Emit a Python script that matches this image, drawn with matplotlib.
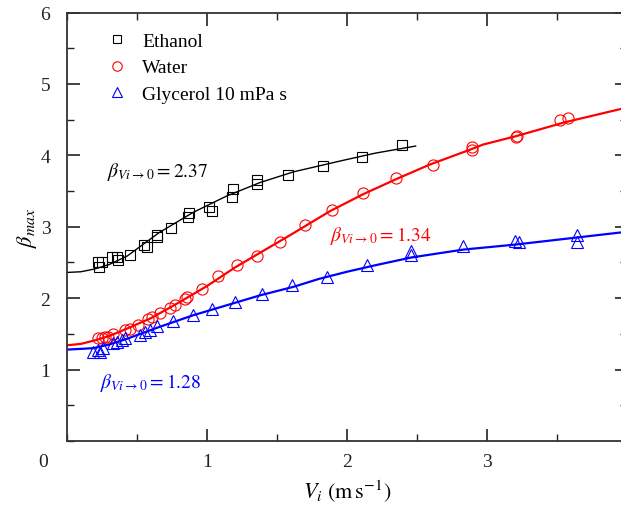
import numpy as np
import matplotlib
matplotlib.use('Agg')
import matplotlib.pyplot as plt
from matplotlib.ticker import MultipleLocator

plt.rcParams['font.family'] = ['Liberation Serif', 'DejaVu Serif']
plt.rcParams['mathtext.fontset'] = 'stix'

# Ethanol data
eth_x = [0.224, 0.231, 0.248, 0.319, 0.355, 0.366, 0.45, 0.552, 0.574, 0.645, 0.641,
         0.741, 0.874, 0.866, 1.016, 1.033, 1.188, 1.176, 1.355, 1.36, 1.58, 1.83, 2.105, 2.39]
eth_y = [2.50, 2.43, 2.50, 2.57, 2.57, 2.53, 2.61, 2.75, 2.72, 2.85, 2.88,
         2.98, 3.19, 3.13, 3.27, 3.22, 3.53, 3.41, 3.65, 3.60, 3.72, 3.85, 3.98, 4.14]
eth_fit_x = [0, 0.1, 0.2, 0.3, 0.43, 0.66, 0.9, 1.14, 1.38, 1.62, 1.95, 2.2, 2.49]
eth_fit_y = [2.36, 2.37, 2.41, 2.47, 2.59, 2.92, 3.2, 3.43, 3.62, 3.77, 3.92, 4.03, 4.13]

# Water data
wat_x = [0.224, 0.248, 0.271, 0.295, 0.331, 0.414, 0.45, 0.509, 0.581, 0.605, 0.664,
         0.736, 0.771, 0.843, 0.855, 0.962, 1.081, 1.212, 1.355, 1.521, 1.70, 1.89,
         2.112, 2.35, 2.616, 2.89, 2.89, 3.212, 3.207, 3.52, 3.58]
wat_y = [1.44, 1.44, 1.46, 1.46, 1.50, 1.56, 1.57, 1.63, 1.71, 1.74, 1.79,
         1.86, 1.90, 1.99, 2.02, 2.13, 2.31, 2.47, 2.59, 2.79, 3.02, 3.24,
         3.47, 3.68, 3.86, 4.08, 4.11, 4.27, 4.25, 4.50, 4.52]
wat_fit_x = [0, 0.1, 0.2, 0.3, 0.4, 0.6, 0.8, 1.0, 1.2, 1.4, 1.6, 1.88, 2.12, 2.355,
             2.59, 2.88, 2.97, 3.21, 3.55, 4.0]
wat_fit_y = [1.34, 1.36, 1.41, 1.47, 1.55, 1.72, 1.94, 2.17, 2.43, 2.66, 2.89, 3.22, 3.46, 3.67,
             3.87, 4.08, 4.15, 4.27, 4.46, 4.67]

# Glycerol data
gly_x = [0.188, 0.224, 0.236, 0.259, 0.331, 0.355, 0.391, 0.414, 0.521, 0.557, 0.593,
         0.641, 0.759, 0.902, 1.034, 1.20, 1.39, 1.605, 1.855, 2.145, 2.46, 2.46,
         2.826, 3.20, 3.23, 3.64, 3.64]
gly_y = [1.25, 1.28, 1.24, 1.30, 1.37, 1.39, 1.42, 1.44, 1.49, 1.52, 1.56,
         1.61, 1.68, 1.76, 1.85, 1.94, 2.06, 2.18, 2.29, 2.47, 2.66, 2.60,
         2.73, 2.80, 2.78, 2.89, 2.78]
gly_fit_x = [0, 0.1, 0.188, 0.3, 0.426, 0.664, 0.9, 1.14, 1.38, 1.62, 1.8, 2.0, 2.2, 2.46,
             2.83, 3.2, 3.6, 4.0]
gly_fit_y = [1.28, 1.29, 1.30, 1.35, 1.43, 1.60, 1.76, 1.90, 2.04, 2.16, 2.27, 2.37, 2.46, 2.57,
             2.68, 2.75, 2.84, 2.93]

fig = plt.figure(figsize=(6.21, 5.06), dpi=100)
ax = fig.add_axes([0.1079, 0.1265, 0.9018, 0.8468])

ax.plot(eth_fit_x, eth_fit_y, '-', color='black', lw=1.0)
ax.plot(wat_fit_x, wat_fit_y, '-', color='red', lw=1.6)
ax.plot(gly_fit_x, gly_fit_y, '-', color='blue', lw=1.6)

ax.plot(eth_x, eth_y, 's', mfc='none', mec='black', ms=7.5, mew=0.8, label='Ethanol')
ax.plot(wat_x, wat_y, 'o', mfc='none', mec='red', ms=8, mew=0.8, label='Water')
ax.plot(gly_x, gly_y, '^', mfc='none', mec='blue', ms=8.5, mew=0.8, label='Glycerol 10 mPa s')

ax.text(0.286, 3.78, r'$\beta_{Vi\rightarrow 0} = 2.37$', color='black', fontsize=14, va='center')
ax.text(1.88, 2.89, r'$\beta_{Vi\rightarrow 0} = 1.34$', color='red', fontsize=14, va='center')
ax.text(0.236, 0.83, r'$\beta_{Vi\rightarrow 0} = 1.28$', color='blue', fontsize=14, va='center')

ax.set_xlim(0, 4)
ax.set_ylim(0, 6)
ax.xaxis.set_major_locator(MultipleLocator(1))
ax.xaxis.set_minor_locator(MultipleLocator(0.5))
ax.yaxis.set_major_locator(MultipleLocator(1))
ax.yaxis.set_minor_locator(MultipleLocator(0.5))
ax.tick_params(which='both', direction='in', top=True, right=True, labelsize=14, colors='#222222')
ax.tick_params(which='major', length=9, width=1.2)
ax.tick_params(which='minor', length=5, width=1.0)
ax.tick_params(axis='x', pad=9)
ax.tick_params(axis='y', pad=12)
ax.set_xticks([1, 2, 3, 4])
ax.set_yticks([1, 2, 3, 4, 5, 6])
for s in ax.spines.values():
    s.set_linewidth(1.3)
    s.set_color('#333333')

ax.text(-0.17, -0.29, '0', fontsize=14, ha='center', va='center', color='#222222', clip_on=False)

ax.set_xlabel(r'$V_i\ (\mathrm{m\,s^{-1}})$', fontsize=16, labelpad=5)
ax.set_ylabel(r'$\beta_{max}$', fontsize=16, labelpad=1)

ax.legend(loc='upper left', bbox_to_anchor=(0.03, 1.008), frameon=False, fontsize=14,
          handlelength=1.0, handletextpad=0.8, labelspacing=0.45, markerscale=0.85,
          borderaxespad=0.8)

fig.savefig('out.png', dpi=100)
